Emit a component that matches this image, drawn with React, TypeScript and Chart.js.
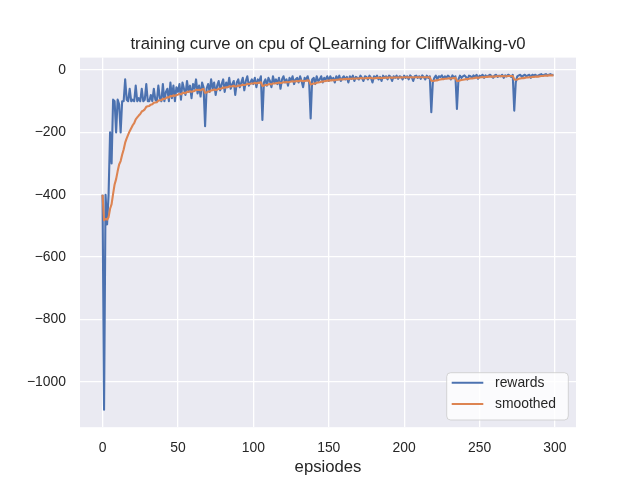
import React, { useEffect, useRef } from "react";
import { Chart, registerables } from "chart.js";

Chart.register(...registerables);

const titleText = "training curve on cpu of QLearning for CliffWalking-v0";
const xLabelText = "epsiodes";
const seriesNames = ["rewards", "smoothed"];
const seriesColors = ["#4C72B0", "#DD8452"];

const xTickValues = [0, 50, 100, 150, 200, 250, 300];
const yTickValues = [0, -200, -400, -600, -800, -1000];

const rewards = [
  -400, -1090, -400, -495, -400, -200, -300, -95, -100, -200,
  -95, -110, -200, -100, -100, -30, -95, -100, -60, -100,
  -95, -100, -50, -100, -90, -100, -60, -100, -95, -45,
  -100, -100, -80, -100, -60, -95, -100, -50, -90, -100,
  -45, -100, -70, -60, -100, -40, -90, -50, -100, -55,
  -70, -45, -95, -40, -60, -80, -35, -70, -50, -90,
  -45, -60, -30, -75, -50, -85, -40, -55, -180, -60,
  -45, -70, -30, -60, -40, -80, -50, -35, -65, -45,
  -30, -70, -40, -55, -25, -60, -45, -35, -80, -40,
  -30, -55, -40, -25, -65, -35, -20, -50, -40, -30,
  -45, -25, -55, -30, -35, -20, -160, -40, -30, -50,
  -25, -35, -55, -20, -40, -30, -45, -25, -60, -30,
  -20, -40, -30, -50, -25, -35, -20, -45, -30, -25,
  -40, -20, -35, -55, -25, -30, -20, -40, -155, -30,
  -25, -45, -20, -35, -30, -20, -40, -25, -30, -20,
  -35, -20, -30, -25, -40, -20, -30, -18, -35, -25,
  -20, -30, -22, -40, -20, -28, -18, -35, -22, -25,
  -30, -18, -25, -35, -20, -22, -30, -18, -25, -40,
  -20, -25, -18, -30, -22, -35, -18, -25, -20, -30,
  -18, -22, -35, -20, -25, -18, -28, -20, -22, -30,
  -18, -25, -20, -30, -17, -22, -35, -20, -18, -25,
  -20, -28, -17, -22, -30, -18, -25, -20, -135, -40,
  -25, -18, -30, -20, -22, -17, -28, -20, -25, -18,
  -22, -30, -17, -25, -20, -125, -30, -18, -25, -20,
  -17, -22, -30, -18, -20, -25, -17, -22, -15, -28,
  -18, -20, -15, -25, -17, -22, -18, -15, -20, -25,
  -17, -15, -22, -18, -20, -15, -25, -17, -20, -15,
  -18, -22, -15, -130, -40, -20, -17, -15, -22, -18,
  -15, -20, -17, -15, -25, -15, -18, -15, -20, -17,
  -15, -13, -18, -15, -13, -17, -15, -13, -16, -15,
];

const smoothed = [
  -400, -482, -478, -480, -472, -445, -430, -397, -367, -350,
  -325, -303, -292, -272, -255, -233, -219, -207, -196, -187,
  -177, -170, -158, -152, -146, -141, -133, -130, -126, -118,
  -116, -115, -111, -110, -105, -104, -103, -98, -97, -97,
  -92, -93, -90, -87, -88, -83, -84, -81, -83, -80,
  -79, -76, -78, -74, -73, -74, -70, -70, -68, -70,
  -68, -67, -63, -64, -63, -65, -62, -61, -73, -72,
  -69, -69, -65, -65, -62, -64, -63, -60, -60, -59,
  -56, -57, -55, -55, -52, -53, -52, -50, -53, -52,
  -50, -50, -49, -47, -48, -47, -44, -45, -44, -43,
  -43, -41, -43, -41, -41, -39, -51, -50, -48, -48,
  -46, -45, -46, -43, -43, -42, -42, -40, -42, -41,
  -39, -39, -38, -39, -38, -37, -36, -37, -36, -35,
  -36, -34, -34, -36, -35, -34, -33, -34, -46, -45,
  -43, -43, -41, -40, -39, -37, -37, -36, -35, -34,
  -34, -33, -33, -32, -33, -31, -31, -30, -30, -30,
  -29, -29, -28, -29, -28, -28, -27, -28, -27, -27,
  -27, -26, -26, -27, -26, -26, -26, -25, -25, -27,
  -26, -26, -25, -25, -25, -26, -25, -25, -24, -25,
  -24, -24, -25, -24, -24, -24, -24, -24, -23, -24,
  -23, -23, -23, -24, -23, -23, -24, -23, -23, -23,
  -23, -23, -23, -23, -23, -23, -23, -23, -34, -35,
  -34, -33, -33, -31, -30, -29, -29, -28, -28, -27,
  -26, -27, -26, -26, -25, -35, -35, -33, -32, -31,
  -30, -29, -29, -28, -27, -27, -26, -25, -24, -25,
  -24, -23, -22, -23, -22, -22, -21, -21, -21, -21,
  -21, -20, -20, -20, -20, -19, -20, -20, -20, -19,
  -19, -19, -19, -30, -31, -30, -28, -27, -26, -26,
  -25, -24, -24, -23, -23, -22, -22, -21, -21, -21,
  -20, -19, -19, -18, -18, -18, -17, -17, -17, -17,
];

const FONT = "'Liberation Sans', Arial, sans-serif";
const TEXT = "#262626";

const decorPlugin = {
  id: "decor",
  beforeDraw(chart: any) {
    const { ctx, chartArea } = chart;
    ctx.save();
    ctx.fillStyle = "#ffffff";
    ctx.fillRect(0, 0, chart.width, chart.height);
    ctx.fillStyle = "#EAEAF2";
    ctx.fillRect(chartArea.left, chartArea.top, chartArea.right - chartArea.left, chartArea.bottom - chartArea.top);
    ctx.restore();
  },
  afterDraw(chart: any) {
    const { ctx, chartArea } = chart;
    const cx = (chartArea.left + chartArea.right) / 2;
    ctx.save();
    ctx.fillStyle = TEXT;
    ctx.textAlign = "center";
    ctx.textBaseline = "alphabetic";
    ctx.font = `16.7px ${FONT}`;
    ctx.fillText(titleText, cx, chartArea.top - 9);
    ctx.fillText(xLabelText, cx, chartArea.bottom + 45);

    // legend
    const w = 121.6;
    const h = 47.3;
    const x0 = chartArea.right - 7.7 - w;
    const y0 = chartArea.bottom - 7.2 - h;
    const r = 4;
    ctx.beginPath();
    ctx.moveTo(x0 + r, y0);
    ctx.lineTo(x0 + w - r, y0);
    ctx.arcTo(x0 + w, y0, x0 + w, y0 + r, r);
    ctx.lineTo(x0 + w, y0 + h - r);
    ctx.arcTo(x0 + w, y0 + h, x0 + w - r, y0 + h, r);
    ctx.lineTo(x0 + r, y0 + h);
    ctx.arcTo(x0, y0 + h, x0, y0 + h - r, r);
    ctx.lineTo(x0, y0 + r);
    ctx.arcTo(x0, y0, x0 + r, y0, r);
    ctx.closePath();
    ctx.fillStyle = "rgba(255,255,255,0.8)";
    ctx.fill();
    ctx.strokeStyle = "rgba(204,204,204,0.8)";
    ctx.lineWidth = 1;
    ctx.stroke();

    ctx.font = `13.9px ${FONT}`;
    ctx.textAlign = "left";
    ctx.textBaseline = "middle";
    seriesNames.forEach((name, i) => {
      const y = y0 + 10 + i * 21.3;
      ctx.strokeStyle = seriesColors[i];
      ctx.lineWidth = 2.1;
      ctx.beginPath();
      ctx.moveTo(x0 + 5, y);
      ctx.lineTo(x0 + 36.6, y);
      ctx.stroke();
      ctx.fillStyle = TEXT;
      ctx.fillText(name, x0 + 48.3, y + 0.5);
    });
    ctx.restore();
  },
};

export default function App() {
  const ref = useRef<HTMLCanvasElement | null>(null);
  useEffect(() => {
    if (!ref.current) return;
    const chart = new Chart(ref.current, {
      type: "line",
      data: {
        datasets: [
          {
            label: seriesNames[0],
            data: rewards.map((v, i) => ({ x: i, y: v })),
            borderColor: seriesColors[0],
            borderWidth: 2.1,
            pointRadius: 0,
            tension: 0,
            borderJoinStyle: "round",
            order: 2,
          },
          {
            label: seriesNames[1],
            data: smoothed.map((v, i) => ({ x: i, y: v })),
            borderColor: seriesColors[1],
            borderWidth: 2.1,
            pointRadius: 0,
            tension: 0,
            borderJoinStyle: "round",
            order: 1,
          },
        ],
      },
      options: {
        responsive: false,
        animation: false,
        events: [],
        layout: { padding: { left: 0, right: 64, top: 57.6, bottom: 0 } },
        plugins: {
          legend: { display: false },
          title: { display: false },
          tooltip: { enabled: false },
        },
        scales: {
          x: {
            type: "linear",
            min: -14.95,
            max: 313.95,
            border: { display: false },
            grid: { color: "#ffffff", lineWidth: 1.3, drawTicks: false },
            ticks: {
              padding: 13,
              color: TEXT,
              font: { family: FONT, size: 13.9 },
              maxRotation: 0,
              autoSkip: false,
              callback: (v: any) => (Number(v) < 0 ? "\u2212" + Math.abs(Number(v)) : String(v)),
            },
            afterBuildTicks: (scale: any) => {
              scale.ticks = xTickValues.map((v) => ({ value: v }));
            },
            afterFit: (scale: any) => {
              scale.height = 52.8;
            },
          },
          y: {
            type: "linear",
            min: -1146,
            max: 40,
            border: { display: false },
            grid: { color: "#ffffff", lineWidth: 1.3, drawTicks: false },
            ticks: {
              padding: 14,
              color: TEXT,
              font: { family: FONT, size: 13.9 },
              autoSkip: false,
              callback: (v: any) => (Number(v) < 0 ? "\u2212" + Math.abs(Number(v)) : String(v)),
            },
            afterBuildTicks: (scale: any) => {
              scale.ticks = yTickValues.map((v) => ({ value: v }));
            },
            afterFit: (scale: any) => {
              scale.width = 80;
            },
          },
        },
      },
      plugins: [decorPlugin],
    } as any);
    return () => chart.destroy();
  }, []);
  return (
    <div style={{ position: "fixed", left: 0, top: 0, width: 640, height: 480, background: "#fff" }}>
      <canvas ref={ref} width={640} height={480} />
    </div>
  );
}
